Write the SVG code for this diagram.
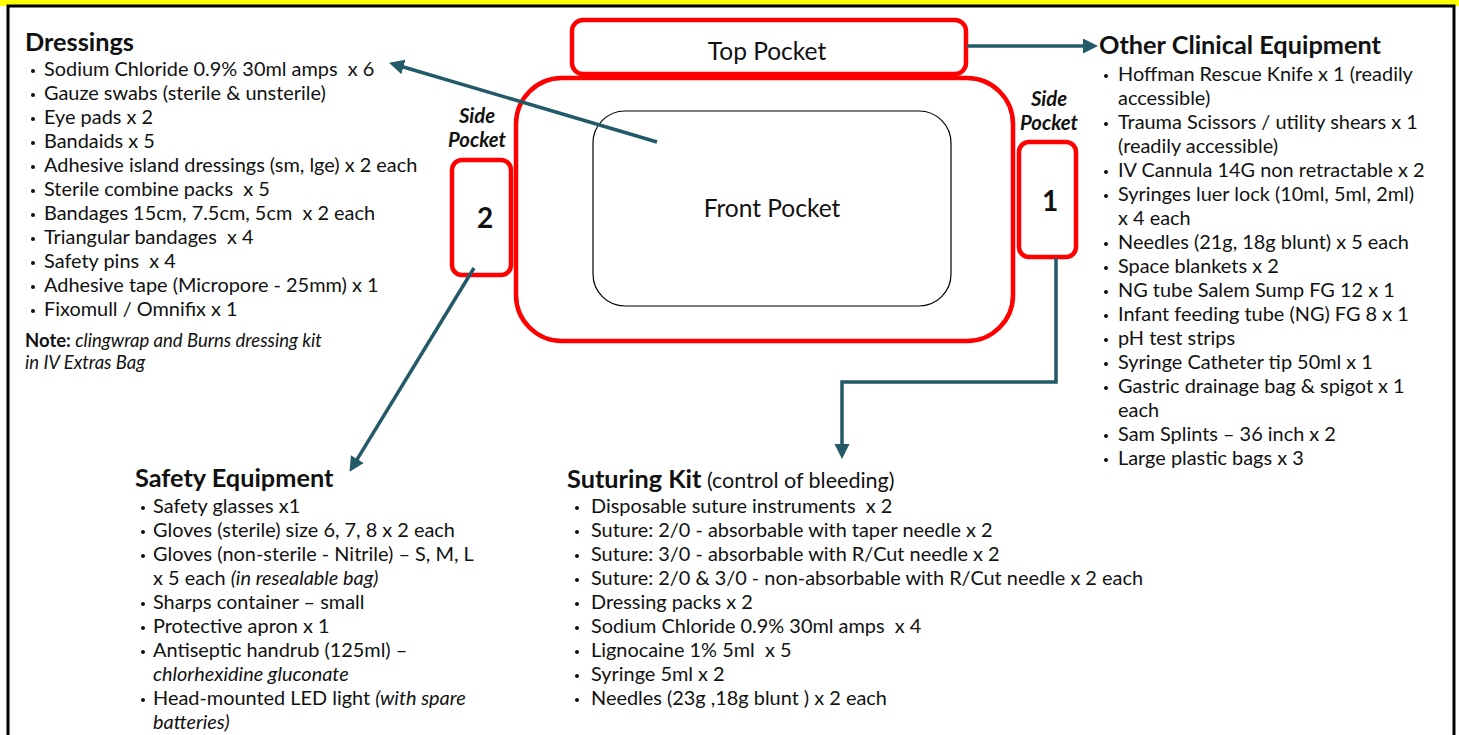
<svg xmlns="http://www.w3.org/2000/svg" width="1459" height="735" viewBox="0 0 1459 735">
<defs>
<style>
text{font-family:Lato,"Open Sans","Liberation Sans",sans-serif;fill:#111;white-space:pre}
.h{font-weight:bold;font-size:25.3px}
.i{font-size:19.9px}
.it{font-style:italic}
.sp{font-weight:bold;font-style:italic;font-size:20.3px;text-anchor:middle}
.pk{fill:#fff;stroke:#ff0000;stroke-width:4.5}
.lbl{font-size:24.5px;text-anchor:middle}
.num{font-size:28px;font-weight:bold;text-anchor:middle}
.con{fill:none;stroke:#235a68;stroke-width:3.5;marker-end:url(#ah)}
.b{fill:#111}
</style>
<marker id="ah" markerUnits="userSpaceOnUse" markerWidth="16" markerHeight="16" refX="1" refY="7.5" orient="auto">
<path d="M0,0 L15,7.5 L0,15 z" fill="#235a68"/>
</marker>
</defs>
<rect x="0" y="0" width="1459" height="735" fill="#fff"/>
<rect x="0" y="0" width="1459" height="6" fill="#ffff00"/>
<path d="M8,735 L8,6 L1454,6 L1454,735" fill="none" stroke="#000" stroke-width="3"/>

<g id="front-pocket">
<rect class="pk" x="516" y="78" width="497" height="263" rx="46"/>
<rect x="593" y="111" width="358" height="195" rx="32" fill="#fff" stroke="#000" stroke-width="1.2"/>
<text class="lbl" x="772" y="217">Front Pocket</text>
</g>
<g id="top-pocket">
<rect class="pk" x="572" y="20" width="394" height="54" rx="11"/>
<text class="lbl" x="767" y="60">Top Pocket</text>
</g>
<g id="side-pocket-2">
<rect class="pk" x="452" y="160" width="59" height="115" rx="10"/>
<text class="num" x="485" y="228">2</text>
<text class="sp" x="477" y="123">Side</text>
<text class="sp" x="477" y="147">Pocket</text>
</g>
<g id="side-pocket-1">
<rect class="pk" x="1019" y="142" width="57" height="115" rx="10"/>
<text class="num" x="1050" y="211">1</text>
<text class="sp" x="1049" y="106">Side</text>
<text class="sp" x="1049" y="130">Pocket</text>
</g>

<g id="connectors">
<path class="con" d="M657,142 L402.5,66.7"/>
<path class="con" d="M474,268 L356.8,459.9"/>
<path class="con" d="M967,46 L1084,46"/>
<path class="con" d="M1056,258 L1056,382 L842,382 L842,445"/>
</g>

<g id="dressings">
<text class="h" x="25" y="51">Dressings</text>
<g class="b">
<circle cx="33" cy="71" r="2"/><circle cx="33" cy="95" r="2"/><circle cx="33" cy="119" r="2"/><circle cx="33" cy="143" r="2"/><circle cx="33" cy="167" r="2"/><circle cx="33" cy="191" r="2"/><circle cx="33" cy="215" r="2"/><circle cx="33" cy="239" r="2"/><circle cx="33" cy="263" r="2"/><circle cx="33" cy="287" r="2"/><circle cx="33" cy="311" r="2"/>
</g>
<text class="i" x="44" y="76">Sodium Chloride 0.9% 30ml amps  x 6</text>
<text class="i" x="44" y="100">Gauze swabs (sterile &amp; unsterile)</text>
<text class="i" x="44" y="124">Eye pads x 2</text>
<text class="i" x="44" y="148">Bandaids x 5</text>
<text class="i" x="44" y="172">Adhesive island dressings (sm, lge) x 2 each</text>
<text class="i" x="44" y="196">Sterile combine packs  x 5</text>
<text class="i" x="44" y="220">Bandages 15cm, 7.5cm, 5cm  x 2 each</text>
<text class="i" x="44" y="244">Triangular bandages  x 4</text>
<text class="i" x="44" y="268">Safety pins  x 4</text>
<text class="i" x="44" y="292">Adhesive tape (Micropore - 25mm) x 1</text>
<text class="i" x="44" y="316">Fixomull / Omnifix x 1</text>
<text x="25" y="347" style="font-size:18.5px"><tspan font-weight="bold">Note:</tspan><tspan class="it"> clingwrap and Burns dressing kit</tspan></text>
<text class="it" x="25" y="369" style="font-size:18.5px">in IV Extras Bag</text>
</g>

<g id="other-clinical-equipment">
<text class="h" x="1099" y="54">Other Clinical Equipment</text>
<g class="b">
<circle cx="1106" cy="76" r="2"/><circle cx="1106" cy="124" r="2"/><circle cx="1106" cy="172" r="2"/><circle cx="1106" cy="196" r="2"/><circle cx="1106" cy="244" r="2"/><circle cx="1106" cy="268" r="2"/><circle cx="1106" cy="292" r="2"/><circle cx="1106" cy="316" r="2"/><circle cx="1106" cy="340" r="2"/><circle cx="1106" cy="364" r="2"/><circle cx="1106" cy="388" r="2"/><circle cx="1106" cy="436" r="2"/><circle cx="1106" cy="460" r="2"/>
</g>
<text class="i" x="1118" y="81">Hoffman Rescue Knife x 1 (readily</text>
<text class="i" x="1118" y="105">accessible)</text>
<text class="i" x="1118" y="129">Trauma Scissors / utility shears x 1</text>
<text class="i" x="1118" y="153">(readily accessible)</text>
<text class="i" x="1118" y="177">IV Cannula 14G non retractable x 2</text>
<text class="i" x="1118" y="201">Syringes luer lock (10ml, 5ml, 2ml)</text>
<text class="i" x="1118" y="225">x 4 each</text>
<text class="i" x="1118" y="249">Needles (21g, 18g blunt) x 5 each</text>
<text class="i" x="1118" y="273">Space blankets x 2</text>
<text class="i" x="1118" y="297">NG tube Salem Sump FG 12 x 1</text>
<text class="i" x="1118" y="321">Infant feeding tube (NG) FG 8 x 1</text>
<text class="i" x="1118" y="345">pH test strips</text>
<text class="i" x="1118" y="369">Syringe Catheter tip 50ml x 1</text>
<text class="i" x="1118" y="393">Gastric drainage bag &amp; spigot x 1</text>
<text class="i" x="1118" y="417">each</text>
<text class="i" x="1118" y="441">Sam Splints – 36 inch x 2</text>
<text class="i" x="1118" y="465">Large plastic bags x 3</text>
</g>

<g id="safety-equipment">
<text class="h" x="135" y="487">Safety Equipment</text>
<g class="b">
<circle cx="143" cy="508" r="2"/><circle cx="143" cy="532" r="2"/><circle cx="143" cy="556" r="2"/><circle cx="143" cy="604" r="2"/><circle cx="143" cy="628" r="2"/><circle cx="143" cy="652" r="2"/><circle cx="143" cy="700" r="2"/>
</g>
<text class="i" x="153" y="513">Safety glasses x1</text>
<text class="i" x="153" y="537">Gloves (sterile) size 6, 7, 8 x 2 each</text>
<text class="i" x="153" y="561">Gloves (non-sterile - Nitrile) – S, M, L</text>
<text class="i" x="153" y="585">x 5 each <tspan class="it">(in resealable bag)</tspan></text>
<text class="i" x="153" y="609">Sharps container – small</text>
<text class="i" x="153" y="633">Protective apron x 1</text>
<text class="i" x="153" y="657">Antiseptic handrub (125ml) –</text>
<text class="i it" x="153" y="681">chlorhexidine gluconate</text>
<text class="i" x="153" y="705">Head-mounted LED light <tspan class="it">(with spare</tspan></text>
<text class="i it" x="153" y="729">batteries)</text>
</g>

<g id="suturing-kit">
<text x="567" y="488"><tspan class="h">Suturing Kit</tspan><tspan style="font-size:21.5px"> (control of bleeding)</tspan></text>
<g class="b">
<circle cx="577" cy="508" r="2"/><circle cx="577" cy="532" r="2"/><circle cx="577" cy="556" r="2"/><circle cx="577" cy="580" r="2"/><circle cx="577" cy="604" r="2"/><circle cx="577" cy="628" r="2"/><circle cx="577" cy="652" r="2"/><circle cx="577" cy="676" r="2"/><circle cx="577" cy="700" r="2"/>
</g>
<text class="i" x="591" y="513">Disposable suture instruments  x 2</text>
<text class="i" x="591" y="537">Suture: 2/0 - absorbable with taper needle x 2</text>
<text class="i" x="591" y="561">Suture: 3/0 - absorbable with R/Cut needle x 2</text>
<text class="i" x="591" y="585">Suture: 2/0 &amp; 3/0 - non-absorbable with R/Cut needle x 2 each</text>
<text class="i" x="591" y="609">Dressing packs x 2</text>
<text class="i" x="591" y="633">Sodium Chloride 0.9% 30ml amps  x 4</text>
<text class="i" x="591" y="657">Lignocaine 1% 5ml  x 5</text>
<text class="i" x="591" y="681">Syringe 5ml x 2</text>
<text class="i" x="591" y="705">Needles (23g ,18g blunt ) x 2 each</text>
</g>
</svg>
